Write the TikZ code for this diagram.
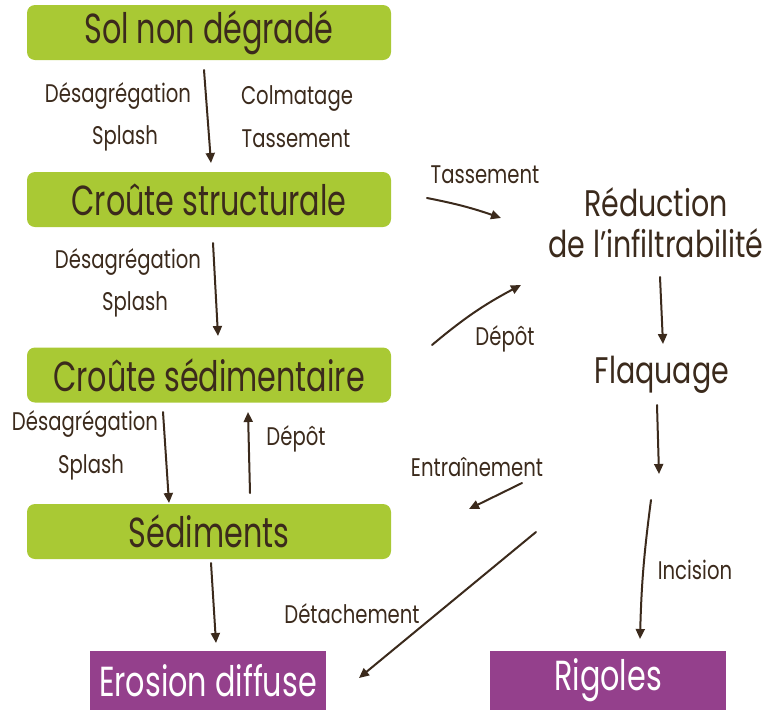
\documentclass[tikz,border=0pt]{standalone}
\usepackage{fontspec}
\usetikzlibrary{arrows.meta}
\newfontfamily\hand{Poppins}[FakeStretch=0.72]
\newfontfamily\handwide{Poppins}[FakeStretch=0.77]
\definecolor{leaf}{RGB}{169,201,52}
\definecolor{plum}{RGB}{148,64,140}
\definecolor{ink}{RGB}{59,42,28}
\tikzset{
  stage/.style={fill=leaf, rounded corners=8pt, inner sep=0pt, minimum width=364pt, minimum height=55pt,
    font=\hand\fontsize{42}{46}\selectfont, text=ink},
  outcome/.style={fill=plum, inner sep=0pt, minimum width=236pt, minimum height=59pt,
    font=\hand\fontsize{42}{46}\selectfont, text=white},
  state/.style={font=\handwide\fontsize{37}{41}\selectfont, text=ink, align=center, inner sep=0pt},
  lbl/.style={font=\handwide\fontsize{25.5}{30}\selectfont, text=ink, inner sep=0pt},
  flow/.style={draw=ink, line width=2pt, line cap=round,
    -{Triangle[length=10pt,width=9pt]}},
}
\begin{document}
\begin{tikzpicture}[x=1pt,y=-1pt]
\useasboundingbox (0,0) rectangle (768,710);

% process stages
\node[stage] (sol)  at (209,32.5)  {Sol non dégradé};
\node[stage] (cstr) at (209,199.5) {Croûte structurale};
\node[stage] (csed) at (209,375)   {Croûte sédimentaire};
\node[stage] (sedi) at (209,531.5) {Sédiments};

% end products
\node[outcome] (erod) at (208,680.5) {Erosion diffuse};
\node[outcome] (rigo) at (608,680.5) {Rigoles};

% hydrological states
\node[state] (redu) at (656,223) {Réduction\\de l’infiltrabilité};
\node[state] (flaq) at (662,375) {Flaquage};

% process labels
\node[lbl] (l1a) at (118,96)  {Désagrégation};
\node[lbl] (l1b) at (125,138) {Splash};
\node[lbl] (l1c) at (297,99)  {Colmatage};
\node[lbl] (l1d) at (296,139) {Tassement};
\node[lbl] (l2a) at (128,262) {Désagrégation};
\node[lbl] (l2b) at (135,304) {Splash};
\node[lbl] (l3a) at (85,424)  {Désagrégation};
\node[lbl] (l3b) at (91,467)  {Splash};
\node[lbl] (l3c) at (296,439) {Dépôt};
\node[lbl] (l4)  at (485,175) {Tassement};
\node[lbl] (l5)  at (505,339) {Dépôt};
\node[lbl] (l6)  at (477,467) {Entraînement};
\node[lbl] (l7)  at (695,570) {Incision};
\node[lbl] (l8)  at (352,614) {Détachement};

% arrow end points
\coordinate (a1s) at (204,70);  \coordinate (a1e) at (211,163);
\coordinate (a2s) at (213,243); \coordinate (a2e) at (218,336);
\coordinate (a3s) at (163,412); \coordinate (a3e) at (169,503);
\coordinate (a4s) at (250,493); \coordinate (a4e) at (248,412);
\coordinate (a5s) at (211,563); \coordinate (a5e) at (216,643);
\coordinate (a6s) at (427,198); \coordinate (a6e) at (501,218);
\coordinate (a7s) at (432,345); \coordinate (a7e) at (521,285);
\coordinate (a8s) at (660,277); \coordinate (a8e) at (663,344);
\coordinate (a9s) at (657,405); \coordinate (a9e) at (659,474);
\coordinate (a10s) at (651,500); \coordinate (a10e) at (640,639);
\coordinate (a11s) at (522,483); \coordinate (a11e) at (469,509);
\coordinate (a12s) at (536,532); \coordinate (a12e) at (359,678);

\draw[flow] (a1s) -- (a1e);
\draw[flow] (a2s) -- (a2e);
\draw[flow] (a3s) -- (a3e);
\draw[flow] (a4s) -- (a4e);
\draw[flow] (a5s) -- (a5e);
\draw[flow] (a6s) to[bend left=4] (a6e);
\draw[flow] (a7s) to[bend left=6] (a7e);
\draw[flow] (a8s) -- (a8e);
\draw[flow] (a9s) -- (a9e);
\draw[flow] (a10s) to[bend right=3] (a10e);
\draw[flow] (a11s) -- (a11e);
\draw[flow] (a12s) -- (a12e);
\end{tikzpicture}
\end{document}
